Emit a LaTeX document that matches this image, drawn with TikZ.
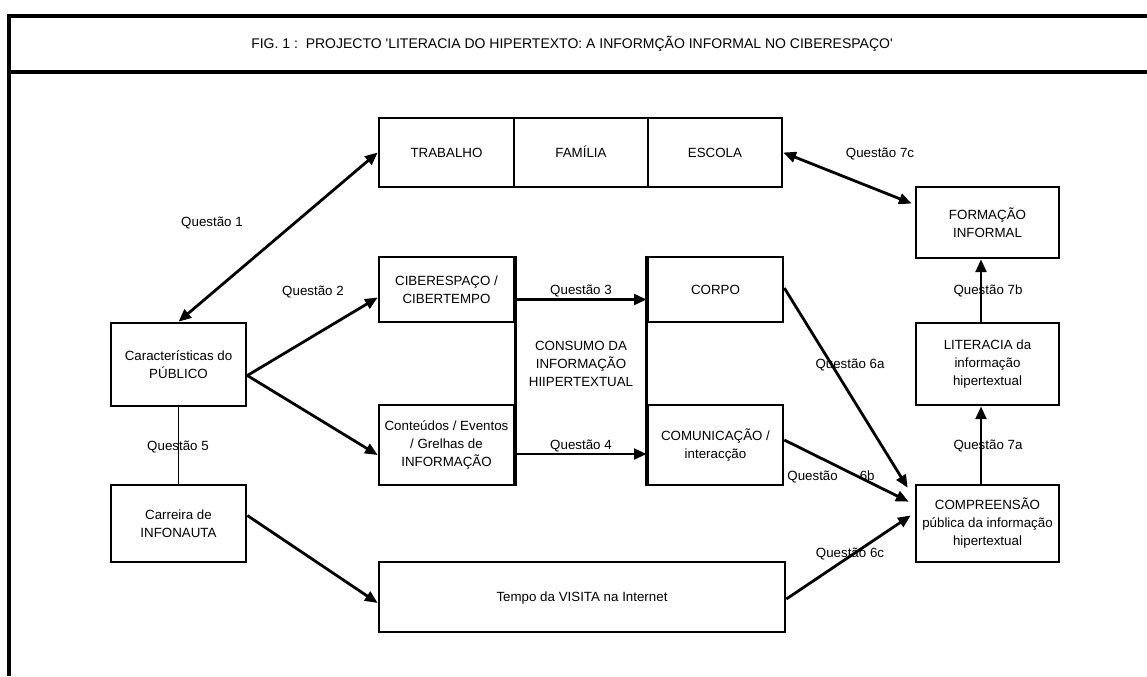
\documentclass[tikz,border=0pt]{standalone}
\usepackage{fontspec}
\newfontfamily\arial{Liberation Sans}
\usetikzlibrary{arrows.meta,fit,calc}
\begin{document}
\begin{tikzpicture}[x=0.75pt,y=-0.75pt,
  every node/.style={font=\arial\fontsize{10}{13.5}\selectfont},
  box/.style={draw,line width=2pt,inner sep=0pt},
  lbl/.style={inner sep=0pt,align=center},
  one/.style={text height=8.2pt,text depth=1pt},
  conn/.style={line width=2.1pt,-{Triangle[length=9.5pt,width=8pt]}},
  dconn/.style={line width=2.1pt,{Triangle[length=9.5pt,width=8pt]}-{Triangle[length=9.5pt,width=8pt]}},
  frameline/.style={line width=2.4pt}]
\useasboundingbox (0,0) rectangle (1147,676);
% frame
\draw[frameline] (1147,16) -- (9,16) -- (9,676);
\draw[frameline] (9,72) -- (1147,72);
\node[lbl,one,font=\arial\fontsize{10.5}{13.5}\selectfont] (title) at (572,44) {FIG. 1 :\ \ PROJECTO 'LITERACIA DO HIPERTEXTO: A INFORMÇÃO INFORMAL NO CIBERESPAÇO'};
% boxes
\node[box,fit={(379,118) (514,187)}] (trab) {};
\node[box,fit={(514,118) (648,187)}] (fam) {};
\node[box,fit={(648,118) (782,187)}] (esc) {};
\node[box,fit={(379,257) (514,322)}] (ciber) {};
\node[box,fit={(648,257) (783,322)}] (corpo) {};
\node[box,fit={(379,405) (514,485)}] (cont) {};
\node[box,fit={(648,405) (783,485)}] (comun) {};
\draw[line width=2pt] (ciber.north east) -- (cont.south east);
\draw[line width=2pt] (corpo.north west) -- (comun.south west);
\node[box,fit={(111,323) (246,406)}] (pub) {};
\node[box,fit={(111,485) (246,562)}] (carr) {};
\node[box,fit={(379,562) (785,632)}] (tempo) {};
\node[box,fit={(916,187) (1059,258)}] (form) {};
\node[box,fit={(916,323) (1059,405)}] (lit) {};
\node[box,fit={(916,485) (1059,562)}] (comp) {};
% box texts
\node[lbl,one] (ttrab) at (trab.center) {TRABALHO};
\node[lbl,one] (tfam) at (fam.center) {FAMÍLIA};
\node[lbl,one] (tesc) at (esc.center) {ESCOLA};
\node[lbl] (tciber) at (ciber.center) {CIBERESPAÇO /\\CIBERTEMPO};
\node[lbl,one] (tcorpo) at (corpo.center) {CORPO};
\node[lbl] (tcont) at (cont.center) {Conteúdos / Eventos\\/ Grelhas de\\INFORMAÇÃO};
\node[lbl] (tcomun) at (comun.center) {COMUNICAÇÃO /\\interacção};
\node[lbl] (consumo) at (581,364) {CONSUMO DA\\INFORMAÇÃO\\HIIPERTEXTUAL};
\node[lbl] (tpub) at (pub.center) {Características do\\PÚBLICO};
\node[lbl] (tcarr) at (carr.center) {Carreira de\\INFONAUTA};
\node[lbl,one] (ttempo) at (tempo.center) {Tempo da VISITA na Internet};
\node[lbl] (tform) at (form.center) {FORMAÇÃO\\INFORMAL};
\node[lbl] (tlit) at (lit.center) {LITERACIA da\\informação\\hipertextual};
\node[lbl] (tcomp) at (comp.center) {COMPREENSÃO\\pública da informação\\hipertextual};
% connectors
\draw[dconn] (pub.north) -- (trab.west);
\draw[conn] ($(pub.east)+(0,11)$) -- ($(ciber.west)+(0,8)$);
\draw[conn] ($(pub.east)+(0,11)$) -- ($(cont.west)+(0,10)$);
\draw[conn] ($(ciber.east)+(0,10)$) -- ($(corpo.west)+(0,10)$);
\draw[conn] ($(cont.east)+(0,9)$) -- ($(comun.west)+(0,9)$);
\draw[line width=0.8pt] (pub.south) -- (carr.north);
\draw[conn] ($(carr.east)+(0,-8)$) -- ($(tempo.west)+(0,6)$);
\draw[conn] ($(corpo.east)+(0,-1.5)$) -- ($(comp.north west)+(-7,4)$);
\draw[conn] ($(comun.east)+(0,-5)$) -- ($(comp.north west)+(-6,18)$);
\draw[conn] ($(tempo.east)+(0,2)$) -- ($(comp.west)+(-4,-8)$);
\draw[conn] ($(comp.north)+(-6.5,0)$) -- ($(lit.south)+(-6.5,0)$);
\draw[conn] ($(lit.north)+(-6.5,0)$) -- ($(form.south)+(-6.5,0)$);
\draw[dconn] (esc.east) -- ($(form.west)+(-3,-19)$);
% labels
\node[lbl,one] (q1) at (212,222) {Questão 1};
\node[lbl,one] (q2) at (313,291) {Questão 2};
\node[lbl,one] (q3) at (581,290) {Questão 3};
\node[lbl,one] (q4) at (581,445) {Questão 4};
\node[lbl,one] (q5) at (178,446) {Questão 5};
\node[lbl,one] (q6a) at (850,364) {Questão 6a};
\node[lbl,one] (q6b) at (831,476) {Questão\hspace{16.5pt}6b};
\node[lbl,one] (q6c) at (850,553) {Questão 6c};
\node[lbl,one] (q7a) at (988,445) {Questão 7a};
\node[lbl,one] (q7b) at (988,290) {Questão 7b};
\node[lbl,one] (q7c) at (880,153) {Questão 7c};
\end{tikzpicture}
\end{document}
